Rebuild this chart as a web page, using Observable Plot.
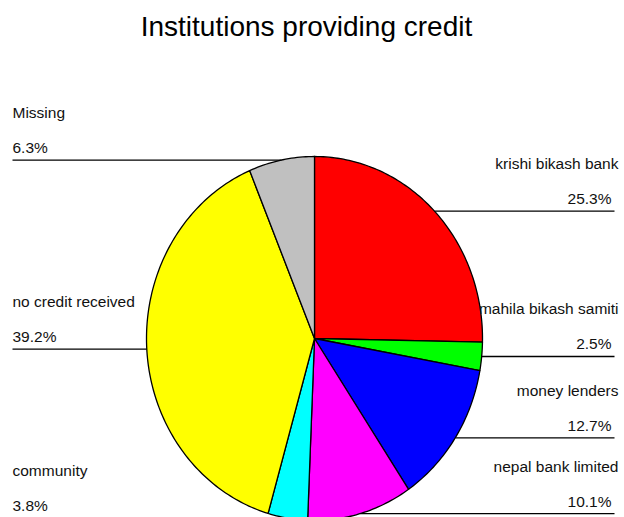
<!DOCTYPE html>
<html><head><meta charset="utf-8">
<script src="https://cdn.jsdelivr.net/npm/d3@7"></script>
<script src="https://cdn.jsdelivr.net/npm/@observablehq/plot@0.6"></script>
<style>
body{margin:0;background:#fff;}
#wrap{position:relative;width:624px;height:517px;overflow:hidden;}
#title{position:absolute;left:0;top:11px;width:613px;text-align:center;font:28px "Liberation Sans",Arial,sans-serif;color:#000;line-height:32px;}
#chart{position:absolute;left:0;top:0;}
</style></head><body>
<div id="wrap"><div id="chart"></div><div id="title">Institutions providing credit</div></div>
<script>
const labels = ["krishi bikash bank","mahila bikash samiti","money lenders","nepal bank limited","community","no credit received","Missing"];
const values = [25.3, 2.5, 12.7, 10.1, 3.8, 39.2, 6.3];
const colors = ["#ff0000","#00ff00","#0000ff","#ff00ff","#00ffff","#ffff00","#c0c0c0"];

// layout (pixels)
const W = 624, H = 517, cx = 314, cy = 338, rx = 168, ry = 182;
const px2x = p => (p - cx) / rx;
const leftX = px2x(12), rightNameX = px2x(618), rightPctX = px2x(611), rightLineX = px2x(614);

const total = d3.sum(values);
let cum = 0;
const slices = labels.map((label, i) => {
  const a0 = cum / total * 2 * Math.PI;
  cum += values[i];
  const a1 = cum / total * 2 * Math.PI;
  return {label, value: values[i], color: colors[i], a0, a1, mid: (a0 + a1) / 2};
});

const poly = [];
for (const s of slices) {
  poly.push({label: s.label, color: s.color, x: 0, y: 0});
  const n = Math.max(2, Math.ceil((s.a1 - s.a0) / (Math.PI / 180)));
  for (let k = 0; k <= n; k++) {
    const a = s.a0 + (s.a1 - s.a0) * k / n;
    poly.push({label: s.label, color: s.color, x: Math.sin(a), y: Math.cos(a)});
  }
  poly.push({label: s.label, color: s.color, x: 0, y: 0});
}

const ann = slices.map(s => {
  const left = s.mid > Math.PI;
  const ex = Math.sin(s.mid), ey = Math.cos(s.mid);
  return {
    label: s.label,
    pct: s.value.toFixed(1) + "%",
    left,
    ex, ey,
    lx: left ? leftX : rightLineX,
    nameX: left ? leftX : rightNameX,
    pctX: left ? leftX : rightPctX
  };
});
const L = ann.filter(d => d.left), R = ann.filter(d => !d.left);
const font = {fontSize: 15.5, fill: "#111"};

const chart = Plot.plot({
  width: W, height: H,
  margin: 0,
  x: {domain: [-1, 1], range: [cx - rx, cx + rx], axis: null},
  y: {domain: [-1, 1], range: [cy + ry, cy - ry], axis: null},
  color: {type: "identity"},
  style: {fontFamily: "'Liberation Sans', Arial, sans-serif", background: "white"},
  marks: [
    Plot.line(poly, {x: "x", y: "y", z: "label", fill: "color", stroke: "#000", strokeWidth: 1.3, curve: "linear", strokeLinejoin: "round"}),
    Plot.link(ann, {x1: "lx", y1: "ey", x2: "ex", y2: "ey", stroke: "#000", strokeWidth: 1.3}),
    Plot.text(L, {x: "nameX", y: "ey", text: "label", textAnchor: "start", dy: -47, ...font}),
    Plot.text(L, {x: "pctX", y: "ey", text: "pct", textAnchor: "start", dy: -12, ...font}),
    Plot.text(R, {x: "nameX", y: "ey", text: "label", textAnchor: "end", dy: -47, ...font}),
    Plot.text(R, {x: "pctX", y: "ey", text: "pct", textAnchor: "end", dy: -12, ...font})
  ]
});
document.getElementById("chart").appendChild(chart);
</script>
</body></html>
